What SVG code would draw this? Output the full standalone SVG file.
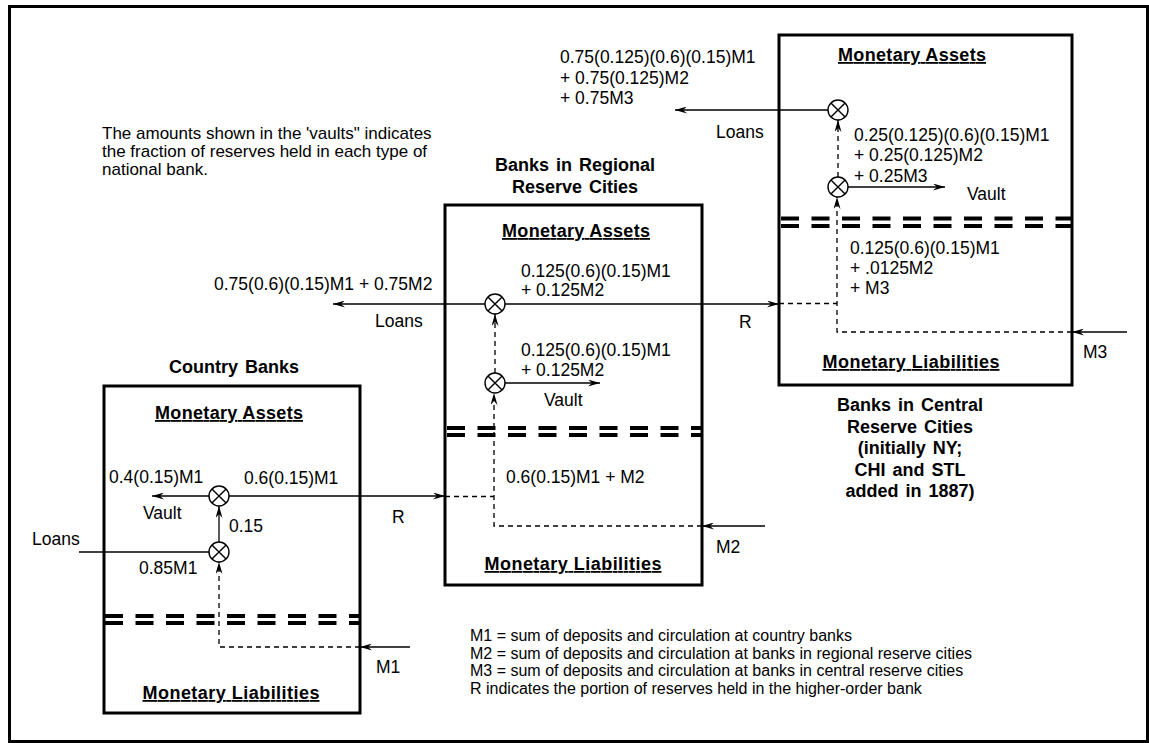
<svg xmlns="http://www.w3.org/2000/svg" width="1149" height="743" viewBox="0 0 1149 743">
  <defs>
    <marker id="arr" viewBox="0 0 12 7" refX="12" refY="3.5" markerWidth="12" markerHeight="7" markerUnits="userSpaceOnUse" orient="auto">
      <path d="M0,0 L12,3.5 L0,7 L4,3.5 Z" fill="#000"/>
    </marker>
    <g id="sum">
      <circle r="10" fill="#fff" stroke="#000" stroke-width="1.4"/>
      <path d="M-7.07,-7.07 L7.07,7.07 M-7.07,7.07 L7.07,-7.07" stroke="#000" stroke-width="1.4"/>
    </g>
  </defs>
  <style>
    text { font-family: "Liberation Sans", Arial, sans-serif; fill: #000; }
    .t { font-size: 17.5px; }
    .n { font-size: 17px; }
    .lg { font-size: 16px; }
    .b { font-size: 18px; font-weight: bold; word-spacing: 2px; text-anchor: middle; }
    .h { font-size: 18px; font-weight: bold; text-decoration: underline; text-anchor: middle; }
    .box { fill: none; stroke: #000; stroke-width: 3; }
    .sep { fill: none; stroke: #000; stroke-width: 4; stroke-dasharray: 18 12.5; }
    .ln { fill: none; stroke: #000; stroke-width: 1.3; }
    .ar { marker-end: url(#arr); }
    .da { stroke-dasharray: 5 4; }
  </style>

  <rect width="1149" height="743" fill="#fff"/>
  <!-- outer frame -->
  <rect x="9.5" y="6.5" width="1138" height="735" fill="none" stroke="#000" stroke-width="3"/>

  <!-- explanatory note -->
  <g id="note" class="n">
    <text x="102" y="139">The amounts shown in the 'vaults" indicates</text>
    <text x="102" y="157">the fraction of reserves held in each type of</text>
    <text x="102" y="175">national bank.</text>
  </g>

  <!-- connectors -->
  <g id="connectors">
    <!-- country banks -->
    <path class="ln" d="M79,552 H209"/>
    <path class="ln ar" d="M219,542 V506"/>
    <path class="ln ar" d="M209,496 H152"/>
    <path class="ln ar" d="M229,496 H445"/>
    <path class="ln ar" d="M410,647 H360"/>
    <path class="ln da ar" d="M360,647 H219 V562"/>
    <!-- regional reserve cities -->
    <path class="ln da" d="M445,496.5 H494"/>
    <path class="ln ar" d="M765,526 H702"/>
    <path class="ln da ar" d="M702,526 H494 V393"/>
    <path class="ln da ar" d="M495,373 V314"/>
    <path class="ln ar" d="M485,304 H333"/>
    <path class="ln ar" d="M505,383 H600"/>
    <path class="ln ar" d="M505,304 H779"/>
    <!-- central reserve cities -->
    <path class="ln da" d="M779,303.5 H837"/>
    <path class="ln ar" d="M1127,332 H1072"/>
    <path class="ln da ar" d="M1072,332 H837 V197"/>
    <path class="ln da ar" d="M838,177 V120"/>
    <path class="ln ar" d="M828,110 H675"/>
    <path class="ln ar" d="M848,187 H945"/>
  </g>

  <!-- Country Banks -->
  <g id="country-banks">
    <text class="b" x="234" y="373">Country Banks</text>
    <rect class="box" x="104" y="386" width="256" height="327"/>
    <text class="h" x="229" y="419" textLength="148" lengthAdjust="spacing">Monetary Assets</text>
    <path class="sep" d="M105,616 H359 M105,623 H359"/>
    <text class="h" x="231" y="699" textLength="177" lengthAdjust="spacing">Monetary Liabilities</text>
    <use href="#sum" x="219" y="496"/>
    <use href="#sum" x="219" y="552"/>
    <g class="t">
      <text x="109" y="483">0.4(0.15)M1</text>
      <text x="244" y="484">0.6(0.15)M1</text>
      <text x="143" y="519">Vault</text>
      <text x="229" y="532">0.15</text>
      <text x="32" y="545">Loans</text>
      <text x="139" y="574">0.85M1</text>
      <text x="392" y="523">R</text>
      <text x="376" y="673">M1</text>
    </g>
  </g>

  <!-- Banks in Regional Reserve Cities -->
  <g id="regional-banks">
    <text class="b" x="575" y="171">Banks in Regional</text>
    <text class="b" x="575" y="193">Reserve Cities</text>
    <rect class="box" x="445" y="205" width="257" height="380"/>
    <text class="h" x="576" y="237" textLength="148" lengthAdjust="spacing">Monetary Assets</text>
    <path class="sep" d="M447,428 H701 M447,435 H701"/>
    <text class="h" x="573" y="570" textLength="177" lengthAdjust="spacing">Monetary Liabilities</text>
    <use href="#sum" x="495" y="304"/>
    <use href="#sum" x="495" y="383"/>
    <g class="t">
      <text x="214" y="290">0.75(0.6)(0.15)M1 + 0.75M2</text>
      <text x="375" y="327">Loans</text>
      <text x="521" y="277">0.125(0.6)(0.15)M1</text>
      <text x="521" y="296">+ 0.125M2</text>
      <text x="521" y="356">0.125(0.6)(0.15)M1</text>
      <text x="521" y="376">+ 0.125M2</text>
      <text x="544" y="406">Vault</text>
      <text x="506" y="483">0.6(0.15)M1 + M2</text>
      <text x="739" y="328">R</text>
      <text x="716" y="553">M2</text>
    </g>
  </g>

  <!-- Banks in Central Reserve Cities -->
  <g id="central-banks">
    <rect class="box" x="779" y="35" width="293" height="350"/>
    <text class="h" x="912" y="61" textLength="148" lengthAdjust="spacing">Monetary Assets</text>
    <path class="sep" d="M781,218.5 H1071 M781,226 H1071"/>
    <text class="h" x="911" y="368" textLength="177" lengthAdjust="spacing">Monetary Liabilities</text>
    <use href="#sum" x="838" y="110"/>
    <use href="#sum" x="838" y="187"/>
    <g class="t">
      <text x="560" y="63">0.75(0.125)(0.6)(0.15)M1</text>
      <text x="560" y="84">+ 0.75(0.125)M2</text>
      <text x="560" y="104">+ 0.75M3</text>
      <text x="716" y="138">Loans</text>
      <text x="854" y="141">0.25(0.125)(0.6)(0.15)M1</text>
      <text x="854" y="161">+ 0.25(0.125)M2</text>
      <text x="854" y="182">+ 0.25M3</text>
      <text x="967" y="200">Vault</text>
      <text x="850" y="254">0.125(0.6)(0.15)M1</text>
      <text x="850" y="274">+ .0125M2</text>
      <text x="850" y="294">+ M3</text>
      <text x="1083" y="358">M3</text>
    </g>
    <text class="b" x="910" y="411">Banks in Central</text>
    <text class="b" x="910" y="432.5">Reserve Cities</text>
    <text class="b" x="910" y="454">(initially NY;</text>
    <text class="b" x="910" y="475.5">CHI and STL</text>
    <text class="b" x="910" y="497">added in 1887)</text>
  </g>

  <!-- legend -->
  <g id="legend" class="lg">
    <text x="470" y="641">M1 = sum of deposits and circulation at country banks</text>
    <text x="470" y="659">M2 = sum of deposits and circulation at banks in regional reserve cities</text>
    <text x="470" y="676">M3 = sum of deposits and circulation at banks in central reserve cities</text>
    <text x="470" y="694">R indicates the portion of reserves held in the higher-order bank</text>
  </g>
</svg>
